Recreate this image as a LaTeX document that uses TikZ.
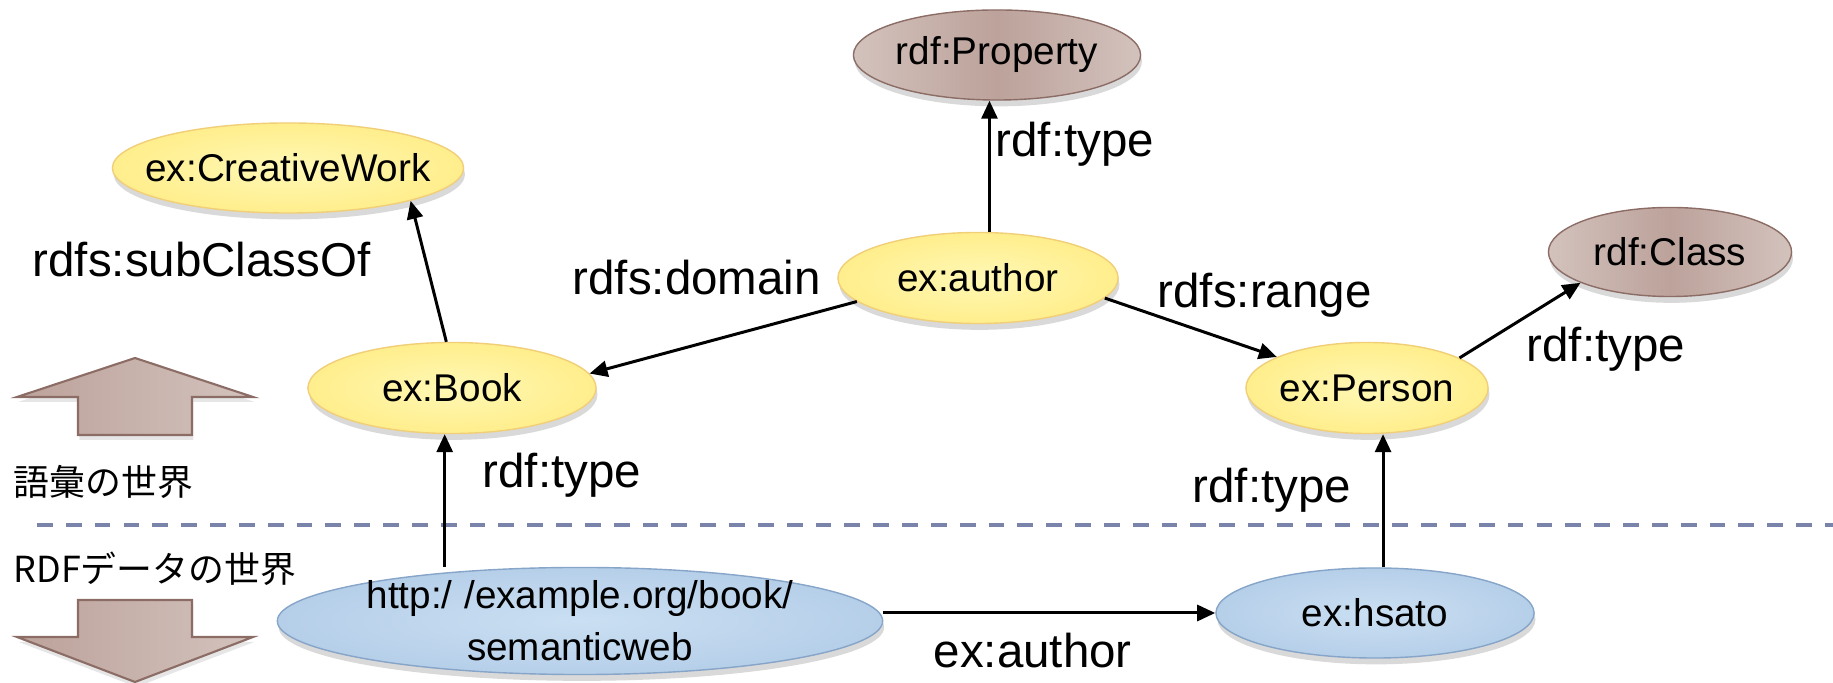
\documentclass[tikz,border=0pt]{standalone}
\usepackage{fontspec}
\setmainfont{Liberation Sans}
\newfontfamily\jpfont{Noto Sans CJK JP}
\usetikzlibrary{shapes.geometric,arrows.meta,shadows}

\definecolor{yelIn}{HTML}{FFF8B5}
\definecolor{yelOut}{HTML}{FFEE8C}
\definecolor{yelLine}{HTML}{F0CF78}
\definecolor{brnL}{HTML}{D3C2BC}
\definecolor{brnM}{HTML}{BCA29B}
\definecolor{brnLine}{HTML}{8C6D66}
\definecolor{bluIn}{HTML}{CADFF2}
\definecolor{bluOut}{HTML}{B6CFE9}
\definecolor{bluLine}{HTML}{86A5C9}
\definecolor{dashCol}{HTML}{7A83AA}

\tikzset{
  res/.style={ellipse, inner xsep=-1cm, inner ysep=-.5cm,
    font=\fontsize{11}{14.8}\selectfont,
    drop shadow={opacity=.3, shadow xshift=.4pt, shadow yshift=-1.8pt}},
  vocab/.style={res, draw=yelLine, inner color=yelIn, outer color=yelOut},
  meta/.style={res, draw=brnLine, left color=brnL, right color=brnL, middle color=brnM},
  inst/.style={res, draw=bluLine, inner color=bluIn, outer color=bluOut},
  rel/.style={line width=.85pt, -{Triangle[length=.18cm,width=.16cm]}},
  lbl/.style={anchor=base west, inner sep=0pt, font=\fontsize{13.5}{16}\selectfont},
  jlbl/.style={anchor=base west, inner sep=0pt, font=\jpfont\fontsize{10.2}{12}\selectfont},
  bigarrow/.style={draw=brnLine, line width=.6pt, left color=brnM, right color=brnL,
    drop shadow={opacity=.2, shadow xshift=.4pt, shadow yshift=-1.4pt}},
  divider/.style={dashCol, line width=1.3pt, dash pattern=on 4.5pt off 3.7pt}
}

\begin{document}
\begin{tikzpicture}[x=0.01cm, y=-0.01cm]
      \useasboundingbox (0,0) rectangle (1833,683);

      % boundary between the two worlds
      \draw[divider] (37,525) -- (1833,525);
      \draw[bigarrow] (78,435) -- (78,397) -- (17,397) -- (135,358) -- (253,397) -- (192,397) -- (192,435) -- cycle;
      \draw[bigarrow] (78,600) -- (192,600) -- (192,637) -- (253,637) -- (135,682) -- (17,637) -- (78,637) -- cycle;
      \node (vocabW) at (13,496) [jlbl] {語彙の世界};
      \node (dataW) at (13,583) [jlbl] {RDFデータの世界};

      % vocabulary
      \node (prop) at (997,55) [meta, minimum width=2.87cm, minimum height=.90cm] {rdf:Property};
      \node (work) at (288,168) [vocab, minimum width=3.51cm, minimum height=.90cm] {ex:CreativeWork};
      \node (author) at (978,278) [vocab, minimum width=2.80cm, minimum height=.91cm] {ex:author};
      \node (cls) at (1670,252) [meta, minimum width=2.43cm, minimum height=.89cm] {rdf:Class};
      \node (book) at (452,388) [vocab, minimum width=2.88cm, minimum height=.91cm] {ex:Book};
      \node (person) at (1367,388) [vocab, minimum width=2.42cm, minimum height=.91cm] {ex:Person};

      \draw[rel] (book.97) -- (work.345);
      \draw[rel] (author.191) -- (book.6);
      \draw[rel] (author.76) -- (author.76 |- prop.south);
      \draw[rel] (author.351) -- (person.161);
      \draw[rel] (person.18) -- (cls.199);

      \node (tSub) at (32,277) [lbl] {rdfs:subClassOf};
      \node (tDom) at (572,295) [lbl] {rdfs:domain};
      \node (tProp) at (995,157) [lbl] {rdf:type};
      \node (tRange) at (1157,308) [lbl] {rdfs:range};
      \node (tCls) at (1526,362) [lbl] {rdf:type};

      % RDF data
      \node (web) at (580,621) [inst, minimum width=6.05cm, minimum height=1.07cm, align=center]
        {http:/\kern.3em/example.org/book/\\semanticweb};
      \node (hsato) at (1375,613) [inst, minimum width=3.18cm, minimum height=.90cm] {ex:hsato};

      \draw[rel] (book.261 |- web.north) -- (book.261);
      \draw[rel] (hsato.80) -- (hsato.80 |- person.south);
      \draw[rel] (hsato.west -| web.east) -- (hsato.west);

      \node (tBook) at (482,488) [lbl] {rdf:type};
      \node (tPerson) at (1192,503) [lbl] {rdf:type};
      \node (tAuthor) at (933,668) [lbl] {ex:author};
\end{tikzpicture}
\end{document}
